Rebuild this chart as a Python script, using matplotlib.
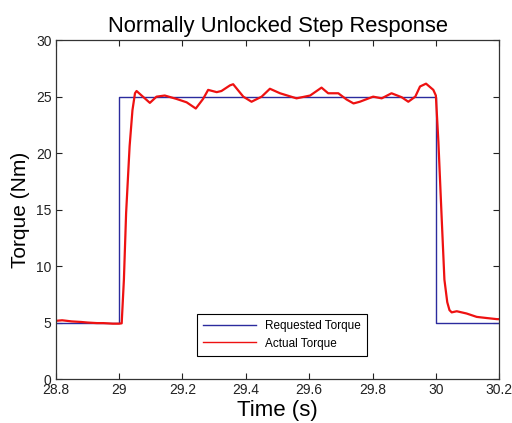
import numpy as np
import matplotlib
matplotlib.use('Agg')
import matplotlib.pyplot as plt

plt.rcParams['font.family'] = ['Liberation Sans', 'DejaVu Sans']

# requested torque (step command)
req_t = [28.8, 29.0, 29.0, 30.0, 30.0, 30.2]
req_v = [5, 5, 25, 25, 5, 5]

# actual torque
act_t = [28.80, 28.82, 28.85, 28.88, 28.90, 28.93, 28.95, 28.98, 29.00, 29.008,
         29.015, 29.022, 29.033, 29.042, 29.050, 29.055, 29.075, 29.097, 29.118,
         29.144, 29.181, 29.213, 29.242, 29.265, 29.281, 29.308, 29.323, 29.350,
         29.360, 29.392, 29.418, 29.450, 29.476, 29.508, 29.560, 29.603, 29.639,
         29.660, 29.692, 29.718, 29.740, 29.760, 29.802, 29.829, 29.860, 29.892,
         29.913, 29.935, 29.950, 29.969, 29.992, 30.000, 30.008, 30.018, 30.027,
         30.036, 30.043, 30.050, 30.066, 30.097, 30.129, 30.160, 30.193, 30.200]
act_v = [5.15, 5.2, 5.1, 5.05, 5.0, 4.95, 4.95, 4.9, 4.9, 4.93,
         8.8, 14.7, 20.6, 23.8, 25.3, 25.5, 25.0, 24.45, 25.0,
         25.1, 24.8, 24.5, 23.95, 24.8, 25.6, 25.4, 25.5, 26.0,
         26.1, 25.0, 24.55, 25.0, 25.7, 25.3, 24.85, 25.1, 25.8,
         25.3, 25.3, 24.75, 24.4, 24.55, 25.0, 24.85, 25.3, 24.95,
         24.55, 25.0, 25.9, 26.15, 25.6, 25.1, 21.0, 14.5, 8.8,
         6.8, 6.1, 5.9, 6.0, 5.8, 5.5, 5.4, 5.3, 5.3]

fig = plt.figure(figsize=(5.12, 4.23), dpi=100)
ax = fig.add_axes([0.109, 0.104, 0.866, 0.801])

ax.plot(req_t, req_v, color='#2b2b9e', lw=1.0, label='Requested Torque')
ax.plot(act_t, act_v, color='#ee1111', lw=1.6, label='Actual Torque')

ax.set_xlim(28.8, 30.2)
ax.set_ylim(0, 30)
ax.set_xticks([28.8, 29, 29.2, 29.4, 29.6, 29.8, 30, 30.2])
ax.set_xticklabels(['28.8', '29', '29.2', '29.4', '29.6', '29.8', '30', '30.2'])
ax.set_yticks([0, 5, 10, 15, 20, 25, 30])
ax.tick_params(direction='in', top=True, right=True, labelsize=10, length=4,
               colors='#222222', pad=3)
for sp in ax.spines.values():
    sp.set_color('#333333')
    sp.set_linewidth(0.9)

ax.set_title('Normally Unlocked Step Response', fontsize=15.8, pad=6)
ax.set_xlabel('Time (s)', fontsize=16, labelpad=2)
ax.set_ylabel('Torque (Nm)', fontsize=15, labelpad=4)

leg = ax.legend(loc='center', bbox_to_anchor=(0.51, 0.13), fontsize=8.5,
                fancybox=False, edgecolor='black', framealpha=1,
                handlelength=4.5, borderpad=0.5, labelspacing=0.45)
leg.get_frame().set_linewidth(0.8)
for line in leg.get_lines():
    line.set_linewidth(1.0)

fig.savefig('out.png', dpi=100)
